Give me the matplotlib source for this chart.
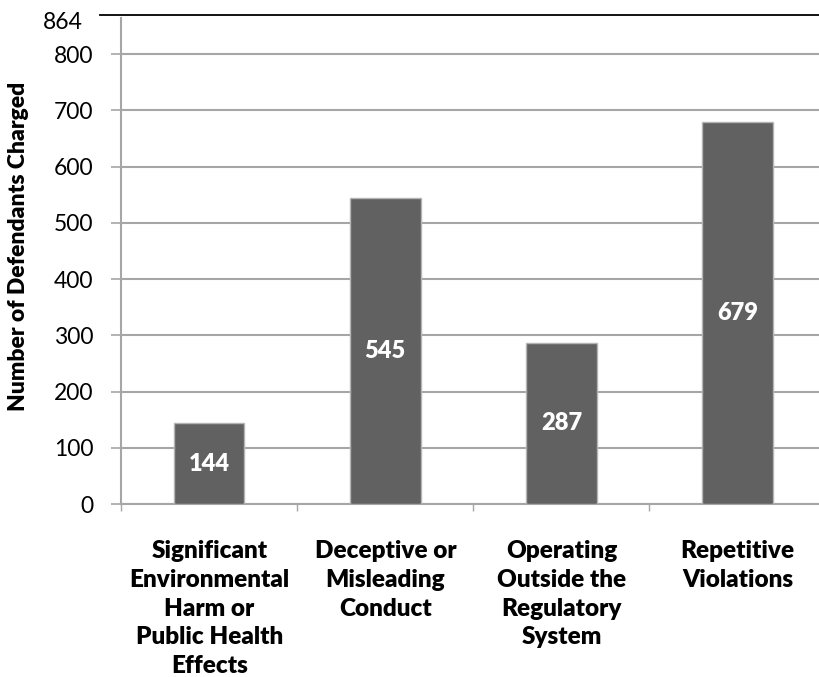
import matplotlib.pyplot as plt
import numpy as np

categories = [
    "Significant\nEnvironmental\nHarm or\nPublic Health\nEffects",
    "Deceptive or\nMisleading\nConduct",
    "Operating\nOutside the\nRegulatory\nSystem",
    "Repetitive\nViolations",
]
defendants = [144, 545, 287, 679]
y_ticks = [0, 100, 200, 300, 400, 500, 600, 700, 800]
y_max = 864

plt.rcParams['font.family'] = ['Lato', 'DejaVu Sans']

fig = plt.figure(figsize=(8.19, 6.77), dpi=100)
ax = fig.add_axes([0.148, 0.2555, 0.86, 0.7175])

x = np.arange(len(categories))
bars = ax.bar(x, defendants, width=0.4, color='#616161',
              edgecolor='#b4b4b4', linewidth=1.0, zorder=3)

# value labels in the middle of each bar
for xi, v in zip(x, defendants):
    ax.text(xi, v / 2, str(v), ha='center', va='center', color='white',
            fontsize=17, fontweight='heavy', zorder=4)

ax.set_xlim(-0.5, len(categories) - 0.5)
ax.set_ylim(0, y_max)

ax.set_yticks(y_ticks)
ax.set_yticklabels([str(t) for t in y_ticks], fontsize=16.5)
ax.grid(axis='y', color='#a6a6a6', linewidth=1.5, zorder=0)
ax.tick_params(axis='y', length=7, width=1.2, color='#a6a6a6', pad=13)

# top value of the axis, with a black rule across the chart
ax.text(-0.055, y_max - 8, str(y_max), transform=ax.get_yaxis_transform(),
        ha='right', va='center', fontsize=16.5)
ax.axhline(y_max + 5, xmin=-0.03, xmax=1, color='black', linewidth=1.3,
           clip_on=False, zorder=5)

# category ticks sit between the bars
ax.set_xticks(x - 0.5)
ax.set_xticklabels([])
ax.tick_params(axis='x', length=5, width=1.0, color='#a6a6a6')
for xi, lab in zip(x, categories):
    ax.text(xi, -0.075, lab, transform=ax.get_xaxis_transform(),
            ha='center', va='top', fontsize=17.5, fontweight='heavy',
            linespacing=1.37)

for side in ['top', 'right']:
    ax.spines[side].set_visible(False)
ax.spines['left'].set_color('#a6a6a6')
ax.spines['left'].set_linewidth(1.5)
ax.spines['bottom'].set_color('#a6a6a6')
ax.spines['bottom'].set_linewidth(1.5)

ax.set_ylabel("Number of Defendants Charged", fontsize=16.5,
              fontweight='heavy')
ax.yaxis.set_label_coords(-0.131, 0.53)

fig.savefig("out.png", dpi=100)
